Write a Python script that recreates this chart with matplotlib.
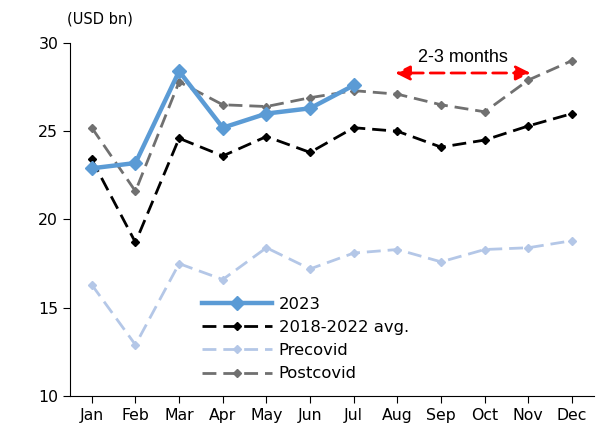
import matplotlib.pyplot as plt
import numpy as np

months = ['Jan', 'Feb', 'Mar', 'Apr', 'May', 'Jun', 'Jul', 'Aug', 'Sep', 'Oct', 'Nov', 'Dec']
y2023 = [22.9, 23.2, 28.4, 25.2, 26.0, 26.3, 27.6]
avg_18_22 = [23.4, 18.7, 24.6, 23.6, 24.7, 23.8, 25.2, 25.0, 24.1, 24.5, 25.3, 26.0]
precovid = [16.3, 12.9, 17.5, 16.6, 18.4, 17.2, 18.1, 18.3, 17.6, 18.3, 18.4, 18.8]
postcovid = [25.2, 21.6, 27.8, 26.5, 26.4, 26.9, 27.3, 27.1, 26.5, 26.1, 27.9, 29.0]

plt.rcParams['font.family'] = ['DejaVu Sans']
fig = plt.figure(figsize=(5.96, 4.32), dpi=100)
ax = fig.add_axes([0.1174, 0.0833, 0.879, 0.8172])

x = np.arange(len(months))
ax.plot(x[:len(y2023)], y2023, color='#5B9BD5', lw=3.2, marker='D', ms=7.5,
        label='2023', zorder=5)
ax.plot(x, avg_18_22, color='black', lw=2, ls=(0, (5, 2.5)), marker='D', ms=4.5,
        label='2018-2022 avg.', zorder=4)
ax.plot(x, precovid, color='#B4C7E7', lw=2, ls=(0, (5, 2.5)), marker='D', ms=4.5,
        label='Precovid', zorder=3)
ax.plot(x, postcovid, color='#707070', lw=2, ls=(0, (5, 2.5)), marker='D', ms=4.5,
        label='Postcovid', zorder=3)

# 2-3 months arrow
ax.annotate('', xy=(6.95, 28.3), xytext=(10.05, 28.3),
            arrowprops=dict(arrowstyle='<|-|>', color='red', lw=2, ls=(0, (5, 2.5)),
                            mutation_scale=22, shrinkA=0, shrinkB=0))
ax.text(8.5, 29.15, '2-3 months', ha='center', va='center', fontsize=13,
        family='Liberation Sans')

ax.set_xlim(-0.5, 11.5)
ax.set_ylim(10, 30)
ax.set_yticks([10, 15, 20, 25, 30])
ax.set_xticks(x)
ax.set_xticklabels(months)
ax.tick_params(labelsize=11.3, direction='out', length=5)
ax.spines['top'].set_visible(False)
ax.spines['right'].set_visible(False)
fig.text(0.112, 0.955, '(USD bn)', fontsize=10.5, ha='left', va='center')

ax.legend(loc='upper left', bbox_to_anchor=(0.239, 0.30), frameon=False, fontsize=11.8,
          handlelength=4.3, labelspacing=0.5, handletextpad=0.4, borderaxespad=0)

plt.savefig('out.png')
